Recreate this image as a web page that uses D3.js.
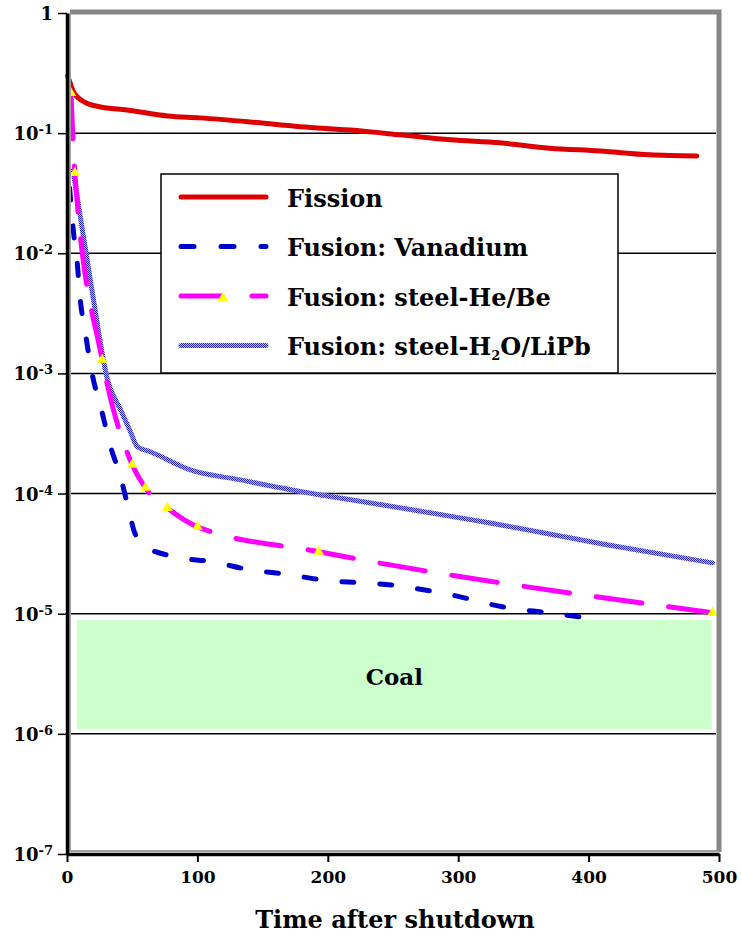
<!DOCTYPE html>
<html>
<head>
<meta charset="utf-8">
<script src="https://cdn.jsdelivr.net/npm/d3@7"></script>
<style>
  body { margin: 0; background: #fff; }
  svg { display: block; font-family: "DejaVu Serif", serif; }
</style>
</head>
<body>
<svg id="chart"></svg>
<script>
// values (time after shutdown vs relative hazard)
var fissionT = [0.5, 2, 5, 14, 25, 46, 77, 102, 140, 179, 217, 255, 294, 332, 370, 409, 447, 483]
var fissionV = [0.3, 0.27, 0.22, 0.18, 0.166, 0.156, 0.139, 0.134, 0.124, 0.113, 0.106, 0.097, 0.088, 0.083, 0.075, 0.071, 0.066, 0.0646]

var vanT = [2, 5, 8, 10, 14, 19, 27, 33, 41, 47, 52, 61, 81, 112, 140, 171, 190, 255, 294, 338, 368, 400]
var vanV = [0.035, 0.015, 0.008, 0.0043, 0.0022, 0.00103, 4.7e-4, 2.55e-4, 1.38e-4, 7.6e-5, 4.7e-5, 3.6e-5, 3.0e-5, 2.7e-5, 2.32e-5, 2.11e-5, 1.95e-5, 1.7e-5, 1.44e-5, 1.12e-5, 1.02e-5, 9.2e-6]

var heT = [3, 6, 27, 50, 60, 77, 100, 193, 495]
var heV = [0.216, 0.0467, 0.0013, 1.74e-4, 1.12e-4, 7.6e-5, 5.3e-5, 3.28e-5, 1.02e-5]

var h2oT = [4.6, 20, 31, 41, 48, 54, 64, 94, 133, 179, 209, 332, 414, 495]
var h2oV = [0.049, 4.3e-3, 8.9e-4, 5.0e-4, 3.4e-4, 2.45e-4, 2.23e-4, 1.58e-4, 1.30e-4, 1.04e-4, 9.2e-5, 5.5e-5, 3.75e-5, 2.65e-5]

var coalT = [7, 495]
var coalV = [1.08e-6, 9e-6]

var xTicks = [0, 100, 200, 300, 400, 500]
var yExps = [0, -1, -2, -3, -4, -5, -6, -7]

var legendNames = ["Fission", "Fusion: Vanadium", "Fusion: steel-He/Be", "Fusion: steel-H2O/LiPb"]

var dimensions = {
    width: 741,
    height: 937,
    margin: { top: 13, bottom: 83, right: 22, left: 67 }
}

var svg = d3.select("#chart")
    .attr("width", dimensions.width)
    .attr("height", dimensions.height)

// checkered texture for the H2O/LiPb line
var defs = svg.append("defs")
var pat = defs.append("pattern")
    .attr("id", "checker")
    .attr("width", 2).attr("height", 2)
    .attr("patternUnits", "userSpaceOnUse")
pat.append("rect").attr("width", 2).attr("height", 2).attr("fill", "#b4b4ff")
pat.append("rect").attr("width", 1).attr("height", 1).attr("fill", "#2c2cc4")
pat.append("rect").attr("x", 1).attr("y", 1).attr("width", 1).attr("height", 1).attr("fill", "#2c2cc4")

var xScale = d3.scaleLinear()
    .domain([0, 500])
    .range([dimensions.margin.left, dimensions.width - dimensions.margin.right])

var yScale = d3.scaleLog()
    .domain([1e-7, 1])
    .range([dimensions.height - dimensions.margin.bottom, dimensions.margin.top])

var x0 = xScale(0), x1 = xScale(500), yTop = yScale(1), yBot = yScale(1e-7)

// gridlines
svg.append("g")
    .selectAll("line")
    .data(yExps.filter(function(e){ return e < 0 && e > -7 }))
    .enter().append("line")
    .attr("x1", x0).attr("x2", x1 - 3)
    .attr("y1", function(e){ return yScale(Math.pow(10, e)) })
    .attr("y2", function(e){ return yScale(Math.pow(10, e)) })
    .attr("stroke", "#000")
    .attr("stroke-width", 1.5)

// coal band
svg.append("rect")
    .attr("x", xScale(coalT[0]))
    .attr("y", yScale(coalV[1]))
    .attr("width", xScale(coalT[1]) - xScale(coalT[0]))
    .attr("height", yScale(coalV[0]) - yScale(coalV[1]))
    .attr("fill", "#ccffcc")
    .attr("stroke", "#fff")
    .attr("stroke-width", 1.5)

svg.append("text")
    .attr("x", xScale((coalT[0] + coalT[1]) / 2))
    .attr("y", yScale(Math.sqrt(coalV[0] * coalV[1])) + 10)
    .attr("text-anchor", "middle")
    .style("font-size", "23px")
    .style("font-weight", "bold")
    .text("Coal")

function pts(t, v){ return t.map(function(d, i){ return [d, v[i]] }) }

var lineGen = d3.line()
    .x(function(d){ return xScale(d[0]) })
    .y(function(d){ return yScale(d[1]) })
    .curve(d3.curveMonotoneX)

var styles = [
    { stroke: "#dd0000", dash: null },
    { stroke: "#0000cc", dash: "12,26" },
    { stroke: "#ff00ff", dash: "46,27" },
    { stroke: "url(#checker)", dash: null }
]
var series = [pts(fissionT, fissionV), pts(vanT, vanV), pts(heT, heV), pts(h2oT, h2oV)]

// H2O first, red later; markers go on top of everything
var drawOrder = [3, 1, 0, 2]
drawOrder.forEach(function(k){
    svg.append("path")
        .datum(series[k])
        .attr("d", lineGen)
        .attr("fill", "none")
        .attr("stroke", styles[k].stroke)
        .attr("stroke-width", 5)
        .attr("stroke-linecap", "round")
        .attr("stroke-linejoin", "round")
        .attr("stroke-dasharray", styles[k].dash)
})

var tri = d3.symbol(d3.symbolTriangle).size(48)
svg.append("g")
    .selectAll("path")
    .data(series[2])
    .enter().append("path")
    .attr("d", tri)
    .attr("transform", function(d){ return "translate(" + xScale(d[0]) + "," + yScale(d[1]) + ")" })
    .attr("fill", "#ffff00")

// legend
var legend = svg.append("g")
legend.append("rect")
    .attr("x", 161).attr("y", 174)
    .attr("width", 457).attr("height", 199)
    .attr("fill", "#fff")
    .attr("stroke", "#000")
    .attr("stroke-width", 1.5)

var rowY = [197, 246.5, 296, 345.5]
legendNames.forEach(function(name, i){
    legend.append("line")
        .attr("x1", 181).attr("x2", 266)
        .attr("y1", rowY[i]).attr("y2", rowY[i])
        .attr("stroke", styles[i].stroke)
        .attr("stroke-width", 5)
        .attr("stroke-linecap", "round")
        .attr("stroke-dasharray", i == 2 ? "41,30" : (i == 1 ? "13,27" : null))
    var t = legend.append("text")
        .attr("x", 287)
        .attr("y", rowY[i] + 9.5)
        .style("font-size", "24px")
        .style("font-weight", "bold")
    if (i == 3) {
        t.append("tspan").text("Fusion: steel-H")
        t.append("tspan").text("2").style("font-size", "13px").attr("dy", 5)
        t.append("tspan").text("O/LiPb").attr("dy", -5)
    } else {
        t.text(name)
    }
})
legend.append("path")
    .attr("d", tri)
    .attr("transform", "translate(223," + (rowY[2] + 2) + ")")
    .attr("fill", "#ffff00")

// plot frame (gray) and axes (black)
svg.append("path")
    .attr("d", "M" + (x0 + 3) + "," + (yTop - 1) + "H" + x1 + "V" + (yBot - 2))
    .attr("fill", "none")
    .attr("stroke", "#868686")
    .attr("stroke-width", 5)
svg.append("line")
    .attr("x1", x0 + 3).attr("x2", x0 + 3).attr("y1", yTop).attr("y2", yBot - 2)
    .attr("stroke", "#a0a0a0").attr("stroke-width", 2)
svg.append("line")
    .attr("x1", x0 + 3).attr("x2", x1).attr("y1", yBot - 3).attr("y2", yBot - 3)
    .attr("stroke", "#a0a0a0").attr("stroke-width", 2)

var xAxisGen = d3.axisBottom(xScale)
    .tickValues(xTicks)
    .tickSize(8)
    .tickSizeOuter(0)
    .tickPadding(9)

var xAxis = svg.append("g")
    .attr("transform", "translate(0," + yBot + ")")
    .call(xAxisGen)
xAxis.select(".domain").attr("stroke", "#000").attr("stroke-width", 3.5)
xAxis.selectAll(".tick line").attr("stroke", "#000").attr("stroke-width", 2)
xAxis.selectAll(".tick text")
    .attr("fill", "#000")
    .style("font-family", "DejaVu Serif")
    .style("font-size", "17px")
    .style("font-weight", "bold")

var yAxisGen = d3.axisLeft(yScale)
    .tickValues(yExps.map(function(e){ return Math.pow(10, e) }))
    .tickSize(9)
    .tickSizeOuter(0)
    .tickPadding(6)
    .tickFormat("")

var yAxis = svg.append("g")
    .attr("transform", "translate(" + x0 + ",0)")
    .call(yAxisGen)
yAxis.select(".domain").attr("stroke", "#000").attr("stroke-width", 3.5)
yAxis.selectAll(".tick line").attr("stroke", "#000").attr("stroke-width", 1.5)
yAxis.selectAll(".tick text")
    .attr("fill", "#000")
    .attr("x", -14)
    .attr("dy", "0.36em")
    .style("font-family", "DejaVu Serif")
    .style("font-size", "18px")
    .style("font-weight", "bold")
    .each(function(d){
        var e = Math.round(Math.log10(d))
        var sel = d3.select(this)
        if (e == 0) { sel.text("1"); return }
        sel.append("tspan").text("10")
        sel.append("tspan").text("-" + (-e))
            .attr("dy", -6)
            .style("font-size", "13px")
    })

svg.append("text")
    .attr("x", (x0 + x1) / 2 + 2)
    .attr("y", 928)
    .attr("text-anchor", "middle")
    .style("font-size", "24px")
    .style("font-weight", "bold")
    .text("Time after shutdown")
</script>
</body>
</html>
